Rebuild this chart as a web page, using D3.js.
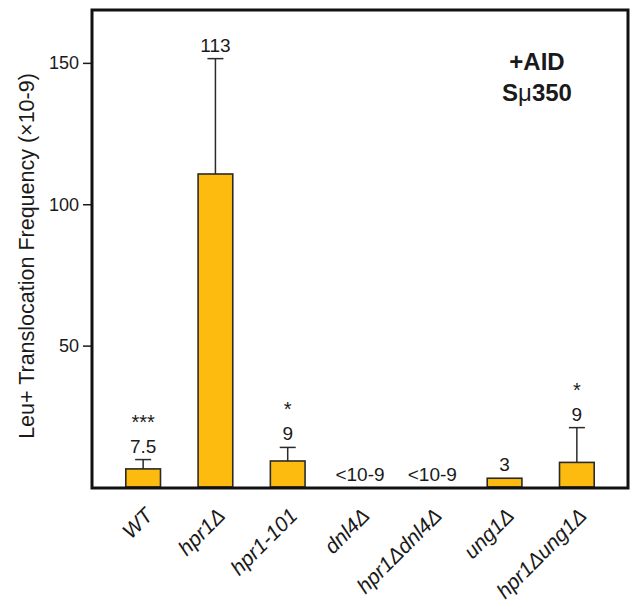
<!DOCTYPE html>
<html><head><meta charset="utf-8">
<script src="https://cdn.jsdelivr.net/npm/d3@7"></script>
<style>
body{margin:0;background:#fff;}
text{font-family:"Liberation Sans",Arial,Helvetica,sans-serif;fill:#1a1a1a;}
</style></head>
<body><svg id="c" width="632" height="611"></svg>
<script>
const categories = ["WT","hpr1Δ","hpr1-101","dnl4Δ","hpr1Δdnl4Δ","ung1Δ","hpr1Δung1Δ"];
const means      = [6.4, 110.7, 9.2, 0, 0, 3.1, 8.7];
const errors     = [3.3, 40.8, 4.8, 0, 0, 0, 12.3];
const valueLabels= ["7.5","113","9","<10-9","<10-9","3","9"];
const stars      = ["***","","*","","","","*"];
const yTicks     = [50,100,150];

const svg = d3.select("#c");
const frame = {l:92, t:10, r:628, b:488};
const y = d3.scaleLinear().domain([0,168.7]).range([487,10]);
const x = d3.scaleBand().domain(categories).range([107,613]).paddingInner(0.52).paddingOuter(0.26);

// y axis ticks
const yAxis = d3.axisLeft(y).tickValues(yTicks).tickSize(9).tickPadding(4);
const ga = svg.append("g").attr("transform",`translate(${frame.l},0)`).call(yAxis);
ga.select(".domain").remove();
ga.selectAll("line").attr("stroke","#1a1a1a").attr("stroke-width",1.5);
ga.selectAll("text").attr("font-size",18).style("font-family","'Liberation Sans',Arial,sans-serif").attr("fill","#1a1a1a");

// bars
const data = categories.map((c,i)=>({c,m:means[i],e:errors[i],lab:valueLabels[i],s:stars[i]}));
svg.selectAll("rect.bar").data(data.filter(d=>d.m>0)).join("rect").attr("class","bar")
  .attr("x",d=>x(d.c)).attr("width",x.bandwidth())
  .attr("y",d=>y(d.m)).attr("height",d=>y(0)-y(d.m))
  .attr("fill","#FDBB0F").attr("stroke","#2a2a2a").attr("stroke-width",1.6);

// error bars (upper only)
const eb = data.filter(d=>d.e>0);
const cap = 8;
svg.selectAll("line.ev").data(eb).join("line").attr("class","ev")
  .attr("x1",d=>x(d.c)+x.bandwidth()/2).attr("x2",d=>x(d.c)+x.bandwidth()/2)
  .attr("y1",d=>y(d.m)).attr("y2",d=>y(d.m+d.e)).attr("stroke","#2a2a2a").attr("stroke-width",1.5);
svg.selectAll("line.ec").data(eb).join("line").attr("class","ec")
  .attr("x1",d=>x(d.c)+x.bandwidth()/2-cap).attr("x2",d=>x(d.c)+x.bandwidth()/2+cap)
  .attr("y1",d=>y(d.m+d.e)).attr("y2",d=>y(d.m+d.e)).attr("stroke","#2a2a2a").attr("stroke-width",1.5);

// value labels
const baseY = d=> y(d.m+d.e) - (d.m>0?7:6);
svg.selectAll("text.vl").data(data).join("text").attr("class","vl")
  .attr("x",d=>x(d.c)+x.bandwidth()/2).attr("y",baseY)
  .attr("text-anchor","middle").attr("font-size",19).text(d=>d.lab);
svg.selectAll("text.st").data(data.filter(d=>d.s)).join("text").attr("class","st")
  .attr("x",d=>x(d.c)+x.bandwidth()/2).attr("y",d=>baseY(d)-24)
  .attr("text-anchor","middle").attr("font-size",20).text(d=>d.s);

// frame
svg.append("rect").attr("x",frame.l).attr("y",frame.t).attr("width",frame.r-frame.l).attr("height",frame.b-frame.t)
  .attr("fill","none").attr("stroke","#111").attr("stroke-width",3);

// x labels
svg.selectAll("text.xl").data(categories).join("text").attr("class","xl")
  .attr("transform",d=>`translate(${x(d)+x.bandwidth()/2+11},${517}) rotate(-45)`)
  .attr("text-anchor","end").attr("font-size",21).attr("font-style","italic").text(d=>d);

// y title
svg.append("text").attr("transform","translate(34,256) rotate(-90)")
  .attr("text-anchor","middle").attr("font-size",21.5).text("Leu+ Translocation Frequency (×10-9)");

// annotation
svg.append("text").attr("x",537).attr("y",70).attr("text-anchor","middle")
  .attr("font-size",24).attr("font-weight","bold").text("+AID");
const t2 = svg.append("text").attr("x",537).attr("y",101).attr("text-anchor","middle")
  .attr("font-size",24).attr("font-weight","bold");
t2.append("tspan").text("S");
t2.append("tspan").attr("font-weight","normal").text("μ");
t2.append("tspan").text("350");
</script></body></html>
